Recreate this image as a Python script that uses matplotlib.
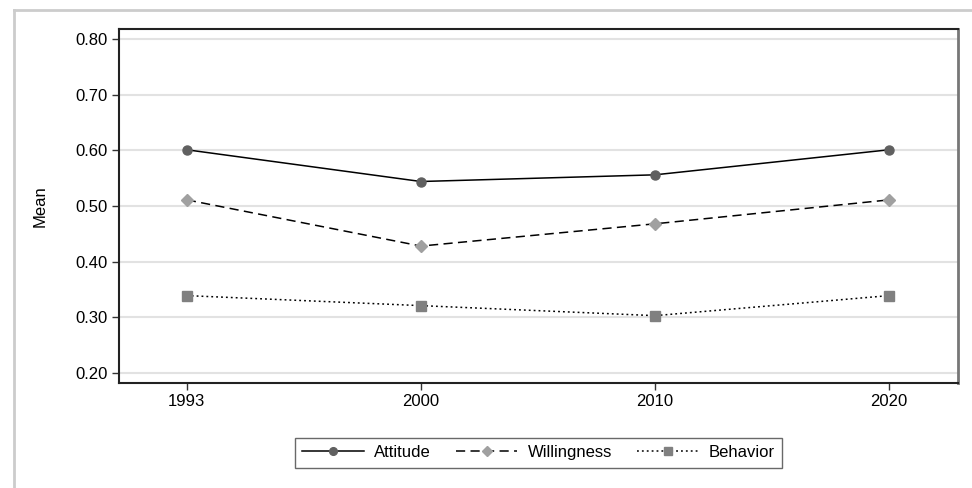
import matplotlib
matplotlib.use("Agg")
import matplotlib.pyplot as plt
from matplotlib.lines import Line2D

plt.rcParams['font.family'] = ['Liberation Sans', 'DejaVu Sans']

years = ['1993', '2000', '2010', '2020']
attitude = [0.601, 0.544, 0.556, 0.601]
willingness = [0.511, 0.428, 0.468, 0.511]
behavior = [0.339, 0.321, 0.303, 0.339]
yticks = [0.20, 0.30, 0.40, 0.50, 0.60, 0.70, 0.80]

fig = plt.figure(figsize=(9.72, 4.88), dpi=100)
ax = fig.add_axes([119 / 972, 1 - 383 / 488, (958 - 119) / 972, (383 - 29) / 488])

# light outer frame (Stata graph region)
fig.add_artist(Line2D([13.5 / 972, 13.5 / 972], [0, 1 - 10 / 488], color='#cccccc', lw=2, transform=fig.transFigure))
fig.add_artist(Line2D([13.5 / 972, 1], [1 - 10 / 488, 1 - 10 / 488], color='#cccccc', lw=2, transform=fig.transFigure))

x = range(len(years))
ax.plot(x, attitude, color='black', lw=1.1, ls='-', marker='o', ms=6.5,
        mfc='#606060', mec='#606060', label='Attitude', zorder=3)
ax.plot(x, willingness, color='black', lw=1.1, ls=(0, (6, 3.5)), marker='D', ms=6.5,
        mfc='#a0a0a0', mec='#a0a0a0', label='Willingness', zorder=3)
ax.plot(x, behavior, color='black', lw=1.1, ls=(0, (1.2, 2)), marker='s', ms=6.5,
        mfc='#808080', mec='#808080', label='Behavior', zorder=3)

ax.set_xlim(-0.29, 3.295)
ax.set_ylim(0.182, 0.818)
ax.set_xticks(list(x))
ax.set_xticklabels(years)
ax.set_yticks(yticks)
ax.set_yticklabels([f'{v:.2f}' for v in yticks])
ax.yaxis.grid(True, color='#e2e2e2', lw=1.5)
ax.set_axisbelow(True)
ax.tick_params(axis='both', labelsize=12, length=5, width=1, color='#333333', pad=3)
ax.set_ylabel('Mean', fontsize=12, labelpad=20)

for side in ['left', 'bottom', 'top']:
    ax.spines[side].set_color('#222222')
    ax.spines[side].set_linewidth(1.5)
ax.spines['right'].set_color('#777777')
ax.spines['right'].set_linewidth(2)

leg = fig.legend(loc='center', bbox_to_anchor=(538.5 / 972, 1 - 452.5 / 488), ncol=3,
                 fontsize=12, handlelength=3.7, handletextpad=0.6, columnspacing=1.5,
                 frameon=True, fancybox=False, borderpad=0.45, borderaxespad=0,
                 markerscale=0.85)
leg.get_frame().set_edgecolor('#444444')
leg.get_frame().set_linewidth(1)

fig.savefig('out.png', dpi=100)
